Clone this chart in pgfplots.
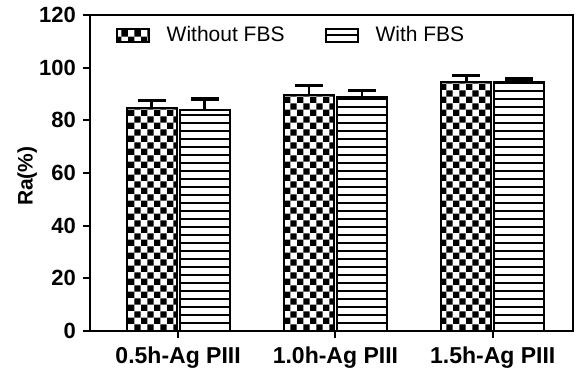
\documentclass[border=0pt]{standalone}
\usepackage{pgfplots}
\pgfplotsset{compat=1.18}
\usepackage{fontspec}
\setmainfont{Liberation Sans}
\usetikzlibrary{patterns,patterns.meta}
\tikzdeclarepattern{
  name=mychecker,
  type=uncolored,
  bounding box={(0pt,0pt) and (6.4pt,6.4pt)},
  tile size={(6.4pt,6.4pt)},
  code={\fill (0pt,0pt) rectangle (3.2pt,3.2pt); \fill (3.2pt,3.2pt) rectangle (6.4pt,6.4pt);}
}
\tikzdeclarepattern{
  name=myhlines,
  type=uncolored,
  bounding box={(-0.6pt,0pt) and (4.6pt,4pt)},
  tile size={(4pt,4pt)},
  code={\fill (-0.6pt,1.55pt) rectangle (4.6pt,2.45pt);}
}
\pgfplotsset{
  myerr/.style={
    error bars/y dir=plus, error bars/y explicit,
    error bars/error bar style={line width=1.3pt, black},
    error bars/error mark options={rotate=90, mark size=7pt, line width=1.8pt, black},
  }
}
\begin{document}
\begin{tikzpicture}
\begin{axis}[
  scale only axis,
  width=241.5pt, height=158pt,
  ybar=1.5pt, bar width=25pt,
  xmin=-0.56, xmax=2.51,
  ymin=0, ymax=120,
  ytick={0,20,...,120},
  xtick={0,1,2},
  xticklabels={0.5h-Ag PIII,1.0h-Ag PIII,1.5h-Ag PIII},
  tick pos=left,
  tick align=outside,
  major tick length=3.5pt,
  axis line style={line width=1pt},
  every tick/.style={line width=1pt, black},
  /pgf/number format/assume math mode=true,
  yticklabel style={font=\fontsize{11}{13}\selectfont\bfseries},
  xticklabel style={font=\fontsize{11.5}{13}\selectfont\bfseries, yshift=-1pt},
  ylabel={Ra(\%)},
  ylabel style={font=\fontsize{10.5}{12}\selectfont\bfseries, at={(axis description cs:-0.13,0.49)}, anchor=center},
  legend columns=2,
  legend style={draw=none, fill=none, at={(0.04,0.99)}, anchor=north west,
    font=\fontsize{10.5}{12}\selectfont,
    /tikz/every even column/.append style={column sep=18pt}},
  legend image code/.code={\draw[#1,line width=1pt] (0pt,-3.3pt) rectangle (16pt,3.3pt); \path[draw=none,fill=none,pattern=none] (0pt,0pt) -- (23pt,0pt);},
]
\addplot[draw=black, line width=1pt, pattern=mychecker, pattern color=black, myerr]
  coordinates {(0,84.7) +- (0,2.9) (1,89.7) +- (0,3.5) (2,94.4) +- (0,2.6)};
\addplot[draw=black, line width=1pt, pattern=myhlines, pattern color=black, myerr]
  coordinates {(0,84.0) +- (0,4.2) (1,89.0) +- (0,2.4) (2,94.4) +- (0,1.4)};
\legend{Without FBS, With FBS}
\end{axis}
\path ([xshift=-45pt,yshift=-21.5pt]current axis.south west) rectangle ([xshift=2pt,yshift=7.5pt]current axis.north east);
\end{tikzpicture}
\end{document}
